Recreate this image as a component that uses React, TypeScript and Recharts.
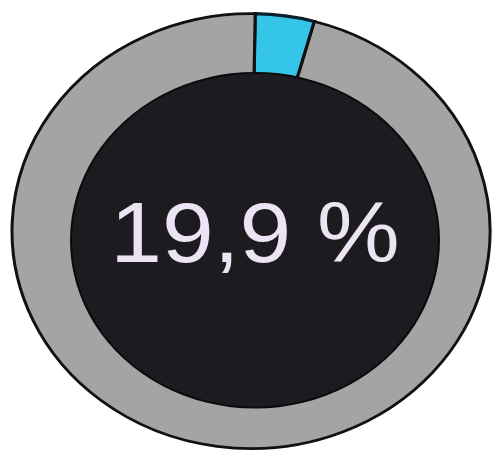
import { Cell, Label, Pie, PieChart } from 'recharts';

const ringNames = ['share', 'rest'];
const ringValues = [4, 96];
const ringColors = ['#35c5e9', '#a4a4a4'];
const centerText = '19,9 %';

const ringData = ringNames.map((name, i) => ({ name, value: ringValues[i] }));
const coreData = [{ name: 'core', value: 1 }];

export default function App() {
  return (
    <div
      style={{
        position: 'absolute',
        left: 0,
        top: 0,
        width: 492,
        height: 454,
        overflow: 'hidden',
        background: '#ffffff',
      }}
    >
      <div style={{ transform: 'scaleY(0.91)', transformOrigin: 'top left' }}>
        <PieChart width={492} height={500} margin={{ top: 0, right: 0, bottom: 0, left: 0 }}>
          <Pie
            data={ringData}
            dataKey="value"
            cx={251}
            cy={254}
            innerRadius={150}
            outerRadius={239}
            startAngle={89}
            endAngle={-271}
            isAnimationActive={false}
          >
            {ringData.map((d, i) => (
              <Cell
                key={d.name}
                fill={ringColors[i]}
                stroke={i === 0 ? '#0b1f2c' : '#111111'}
                strokeWidth={i === 0 ? 3.5 : 3}
              />
            ))}
          </Pie>
          {/* thin dark outline under the core */}
          <Pie
            data={coreData}
            dataKey="value"
            cx={255}
            cy={264}
            outerRadius={185}
            stroke="none"
            fill="#0a0a0c"
            isAnimationActive={false}
          />
          <Pie
            data={coreData}
            dataKey="value"
            cx={255}
            cy={264}
            outerRadius={183}
            stroke="none"
            fill="#1c1b20"
            isAnimationActive={false}
          >
            <Label
              value={centerText}
              position="center"
              dx={9}
              dy={5}
              fill="#ece4f3"
              fontFamily="'Liberation Sans', Arial, sans-serif"
              fontSize={93}
            />
          </Pie>
        </PieChart>
      </div>
    </div>
  );
}
